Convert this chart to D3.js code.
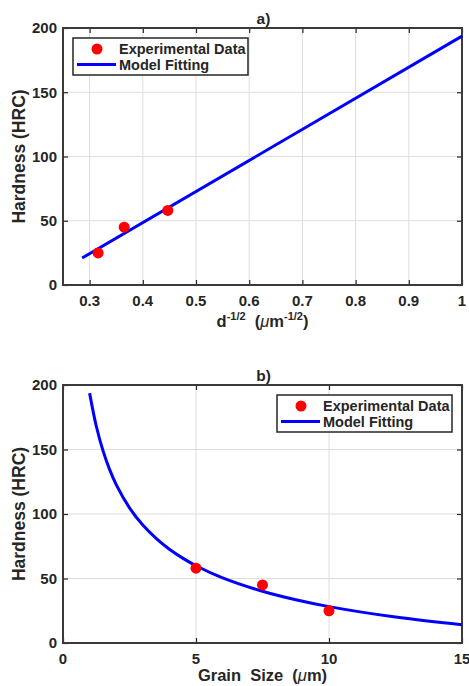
<!DOCTYPE html>
<html>
<head>
<meta charset="utf-8">
<script src="https://cdn.jsdelivr.net/npm/d3@7"></script>
<style>
  body { margin: 0; background: #fff; }
  text { font-family: "Liberation Sans", Arial, sans-serif; font-weight: bold; fill: #262626; }
</style>
</head>
<body>
<div id="chart-area"></div>
<script>
// experimental points
const grainSize = [5, 7.5, 10]
const invSqrtD = [0.447, 0.365, 0.316]
const hardness = [58, 45, 25]

// model fit, panel a (straight line read at its ends)
const fitInvSqrtD = [0.286, 1]
const fitHardnessA = [21, 193.7]

// model fit, panel b (curve)
const fitGrain = [1, 1.25, 1.5, 1.75, 2, 2.5, 3, 3.5, 4, 4.5, 5, 6, 7.5, 8.75, 10, 12.5, 15]
const fitHardnessB = [193.7, 168.2, 149.3, 134.6, 122.8, 104.8, 91.4, 81.1, 72.7, 65.8, 59.9, 50.5, 40.1, 33.5, 28.2, 20.1, 14.2]

const xTicksA = [0.3, 0.4, 0.5, 0.6, 0.7, 0.8, 0.9, 1]
const xTicksB = [0, 5, 10, 15]
const yTicks = [0, 50, 100, 150, 200]

const legendLabels = ['Experimental Data', 'Model Fitting']

const svg = d3.select('#chart-area').append('svg')
    .attr('width', 469)
    .attr('height', 686)

function drawPanel(opt) {
    const x = d3.scaleLinear().domain(opt.xDomain).range([opt.left, opt.right])
    const y = d3.scaleLinear().domain([0, 200]).range([opt.bottom, opt.top])
    const g = svg.append('g')

    // grid
    g.append('g').selectAll('line.gx')
        .data(opt.xTicks.filter(t => t > opt.xDomain[0] && t < opt.xDomain[1]))
        .enter().append('line')
        .attr('x1', d => x(d)).attr('x2', d => x(d))
        .attr('y1', opt.top).attr('y2', opt.bottom)
        .attr('stroke', '#dedede').attr('stroke-width', 1)
    g.append('g').selectAll('line.gy')
        .data(yTicks.filter(t => t > 0 && t < 200))
        .enter().append('line')
        .attr('y1', d => y(d)).attr('y2', d => y(d))
        .attr('x1', opt.left).attr('x2', opt.right)
        .attr('stroke', '#dedede').attr('stroke-width', 1)

    // axes, ticks pointing inward on all four sides
    const tl = 5
    const xAxisBottom = d3.axisTop(x).tickValues(opt.xTicks).tickSize(tl).tickFormat('')
    const xAxisTop = d3.axisBottom(x).tickValues(opt.xTicks).tickSize(tl).tickFormat('')
    const yAxisLeft = d3.axisRight(y).tickValues(yTicks).tickSize(tl).tickFormat('')
    const yAxisRight = d3.axisLeft(y).tickValues(yTicks).tickSize(tl).tickFormat('')
    g.append('g').attr('transform', `translate(0, ${opt.bottom})`).call(xAxisBottom)
    g.append('g').attr('transform', `translate(0, ${opt.top})`).call(xAxisTop)
    g.append('g').attr('transform', `translate(${opt.left}, 0)`).call(yAxisLeft)
    g.append('g').attr('transform', `translate(${opt.right}, 0)`).call(yAxisRight)
    g.selectAll('.domain').remove()
    g.selectAll('.tick line').attr('stroke', '#262626').attr('stroke-width', 1.2)

    // tick labels
    g.append('g').selectAll('text')
        .data(opt.xTicks)
        .enter().append('text')
        .attr('x', d => x(d))
        .attr('y', opt.bottom + 21)
        .attr('text-anchor', 'middle')
        .attr('font-size', '15px')
        .text(d => d)
    g.append('g').selectAll('text')
        .data(yTicks)
        .enter().append('text')
        .attr('x', opt.left - 6)
        .attr('y', d => y(d))
        .attr('dy', '0.36em')
        .attr('text-anchor', 'end')
        .attr('font-size', '15px')
        .text(d => d)

    // box
    g.append('rect')
        .attr('x', opt.left).attr('y', opt.top)
        .attr('width', opt.right - opt.left).attr('height', opt.bottom - opt.top)
        .attr('fill', 'none').attr('stroke', '#3a3a3a').attr('stroke-width', 2)

    // model line
    const line = d3.line()
        .x(d => x(d[0])).y(d => y(d[1]))
        .curve(d3.curveCatmullRom.alpha(0.5))
    g.append('path')
        .datum(d3.zip(opt.fitX, opt.fitY))
        .attr('d', line)
        .attr('fill', 'none')
        .attr('stroke', '#0000ff')
        .attr('stroke-width', 3)

    // points
    g.append('g').selectAll('circle')
        .data(d3.zip(opt.ptX, hardness))
        .enter().append('circle')
        .attr('cx', d => x(d[0]))
        .attr('cy', d => y(d[1]))
        .attr('r', 5.5)
        .attr('fill', '#ff0000')

    // title
    g.append('text')
        .attr('x', (opt.left + opt.right) / 2 + 1)
        .attr('y', opt.top - 4)
        .attr('text-anchor', 'middle')
        .attr('font-size', '15.5px')
        .text(opt.title)

    // y label
    g.append('text')
        .attr('transform', `translate(25, ${(opt.top + opt.bottom) / 2}) rotate(-90)`)
        .attr('text-anchor', 'middle')
        .attr('font-size', '17.5px')
        .text('Hardness (HRC)')

    // legend
    const lg = g.append('g').attr('transform', `translate(${opt.legend[0]}, ${opt.legend[1]})`)
    lg.append('rect')
        .attr('width', 175).attr('height', 37)
        .attr('fill', '#fff').attr('stroke', '#262626').attr('stroke-width', 1.5)
    lg.append('circle').attr('cx', 24).attr('cy', 11).attr('r', 5.5).attr('fill', '#ff0000')
    lg.append('line').attr('x1', 4).attr('x2', 43).attr('y1', 26.5).attr('y2', 26.5)
        .attr('stroke', '#0000ff').attr('stroke-width', 3)
    lg.selectAll('text.leg')
        .data(legendLabels)
        .enter().append('text')
        .attr('x', 46)
        .attr('y', (d, i) => 16 + i * 16)
        .attr('font-size', '14.5px')
        .text(d => d)

    return { x, y, g }
}

const a = drawPanel({
    left: 63, right: 462, top: 28, bottom: 285,
    xDomain: [0.25, 1], xTicks: xTicksA,
    fitX: fitInvSqrtD, fitY: fitHardnessA, ptX: invSqrtD,
    title: 'a)', legend: [73, 38]
})

const b = drawPanel({
    left: 63, right: 462, top: 385, bottom: 643,
    xDomain: [0, 15], xTicks: xTicksB,
    fitX: fitGrain, fitY: fitHardnessB, ptX: grainSize,
    title: 'b)', legend: [277, 395]
})

// x label a: d^-1/2 (μm^-1/2)
const labA = a.g.append('text')
    .attr('x', 262.5)
    .attr('y', 327)
    .attr('text-anchor', 'middle')
    .attr('font-size', '16.5px')
labA.append('tspan').text('d')
labA.append('tspan').attr('font-size', '11px').attr('dy', -7).text('-1/2')
labA.append('tspan').attr('dy', 7).text('\u00a0 (')
labA.append('tspan').attr('font-style', 'italic').attr('font-weight', 'normal').text('\u03bc')
labA.append('tspan').text('m')
labA.append('tspan').attr('font-size', '11px').attr('dy', -7).text('-1/2')
labA.append('tspan').attr('dy', 7).text(')')

// x label b
const labB = b.g.append('text')
    .attr('x', 262.5)
    .attr('y', 681)
    .attr('text-anchor', 'middle')
    .attr('font-size', '16.5px')
labB.append('tspan').text('Grain\u00a0 Size\u00a0 (')
labB.append('tspan').attr('font-style', 'italic').attr('font-weight', 'normal').text('\u03bc')
labB.append('tspan').text('m)')
</script>
</body>
</html>
